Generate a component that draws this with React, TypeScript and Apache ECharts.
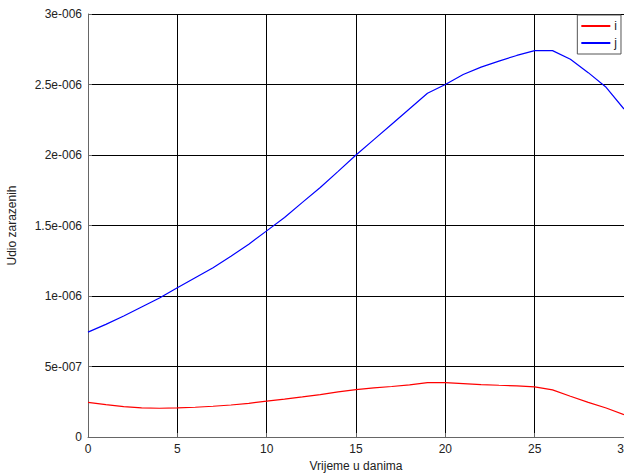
import React, { useEffect, useRef } from "react";
import * as echarts from "echarts";

const days = [0,1,2,3,4,5,6,7,8,9,10,11,12,13,14,15,16,17,18,19,20,21,22,23,24,25,26,27,28,29,30];
const seriesI = [2.46e-7,2.30e-7,2.16e-7,2.06e-7,2.04e-7,2.06e-7,2.11e-7,2.18e-7,2.27e-7,2.39e-7,2.54e-7,2.68e-7,2.84e-7,3.01e-7,3.20e-7,3.36e-7,3.48e-7,3.58e-7,3.70e-7,3.86e-7,3.86e-7,3.79e-7,3.72e-7,3.67e-7,3.63e-7,3.55e-7,3.34e-7,2.89e-7,2.46e-7,2.06e-7,1.59e-7];
const seriesJ = [7.44e-7,7.99e-7,8.58e-7,9.22e-7,9.86e-7,1.059e-6,1.130e-6,1.201e-6,1.282e-6,1.367e-6,1.462e-6,1.557e-6,1.664e-6,1.770e-6,1.884e-6,2.0e-6,2.109e-6,2.218e-6,2.328e-6,2.438e-6,2.5e-6,2.571e-6,2.623e-6,2.666e-6,2.706e-6,2.740e-6,2.740e-6,2.679e-6,2.584e-6,2.480e-6,2.326e-6];
const yTickLabels = ["0","5e-007","1e-006","1.5e-006","2e-006","2.5e-006","3e-006"];
const xTickLabels = ["0","5","10","15","20","25","30"];

const FONT = "'Liberation Sans', Arial, sans-serif";

export default function App() {
  const ref = useRef<HTMLDivElement>(null);
  useEffect(() => {
    document.body.style.margin = "0";
    const chart = echarts.init(ref.current!, undefined, { renderer: "svg" });
    chart.setOption({
      animation: false,
      textStyle: { fontFamily: FONT },
      grid: { left: 88, right: 0, top: 14, bottom: 36, containLabel: false, outerBoundsMode: "none" },
      legend: {
        orient: "vertical",
        right: 3,
        top: 15,
        padding: [5, 4, 5, 4],
        itemGap: 5,
        itemWidth: 29,
        itemHeight: 2,
        icon: "rect",
        borderColor: "#555",
        borderWidth: 1,
        backgroundColor: "#fff",
        textStyle: { fontFamily: FONT, fontSize: 12, color: "#222", padding: [0, 0, 0, -1] },
        data: ["i", "j"],
      },
      xAxis: {
        type: "value",
        min: 0,
        max: 30,
        interval: 5,
        name: "Vrijeme u danima",
        nameLocation: "middle",
        nameGap: 22,
        nameTextStyle: { fontFamily: FONT, fontSize: 12, color: "#222" },
        axisLine: { show: true, lineStyle: { color: "#666", width: 1 } },
        axisTick: { show: true, inside: true, length: 4, lineStyle: { color: "#666" } },
        axisLabel: {
          fontFamily: FONT, fontSize: 12, color: "#222", margin: 6,
          formatter: (_v: number, i: number) => xTickLabels[i] ?? "",
        },
        splitLine: { show: true, lineStyle: { color: "#000", width: 1 } },
      },
      yAxis: {
        type: "value",
        min: 0,
        max: 3e-6,
        interval: 5e-7,
        name: "Udio zarazenih",
        nameLocation: "middle",
        nameGap: 70,
        nameTextStyle: { fontFamily: FONT, fontSize: 12, color: "#222" },
        axisLine: { show: true, lineStyle: { color: "#666", width: 1 } },
        axisTick: { show: true, inside: true, length: 4, lineStyle: { color: "#666" } },
        axisLabel: {
          fontFamily: FONT, fontSize: 12, color: "#222", margin: 6,
          formatter: (_v: number, i: number) => yTickLabels[i] ?? "",
        },
        splitLine: { show: true, lineStyle: { color: "#000", width: 1 } },
      },
      series: [
        {
          name: "i",
          type: "line",
          symbol: "none",
          data: days.map((d, k) => [d, seriesI[k]]),
          lineStyle: { color: "#ff0000", width: 1.2 },
          itemStyle: { color: "#ff0000" },
        },
        {
          name: "j",
          type: "line",
          symbol: "none",
          data: days.map((d, k) => [d, seriesJ[k]]),
          lineStyle: { color: "#0000ff", width: 1.2 },
          itemStyle: { color: "#0000ff" },
        },
      ],
    });
    return () => chart.dispose();
  }, []);
  return <div ref={ref} style={{ position: "absolute", left: 0, top: 0, width: 624, height: 473 }} />;
}
